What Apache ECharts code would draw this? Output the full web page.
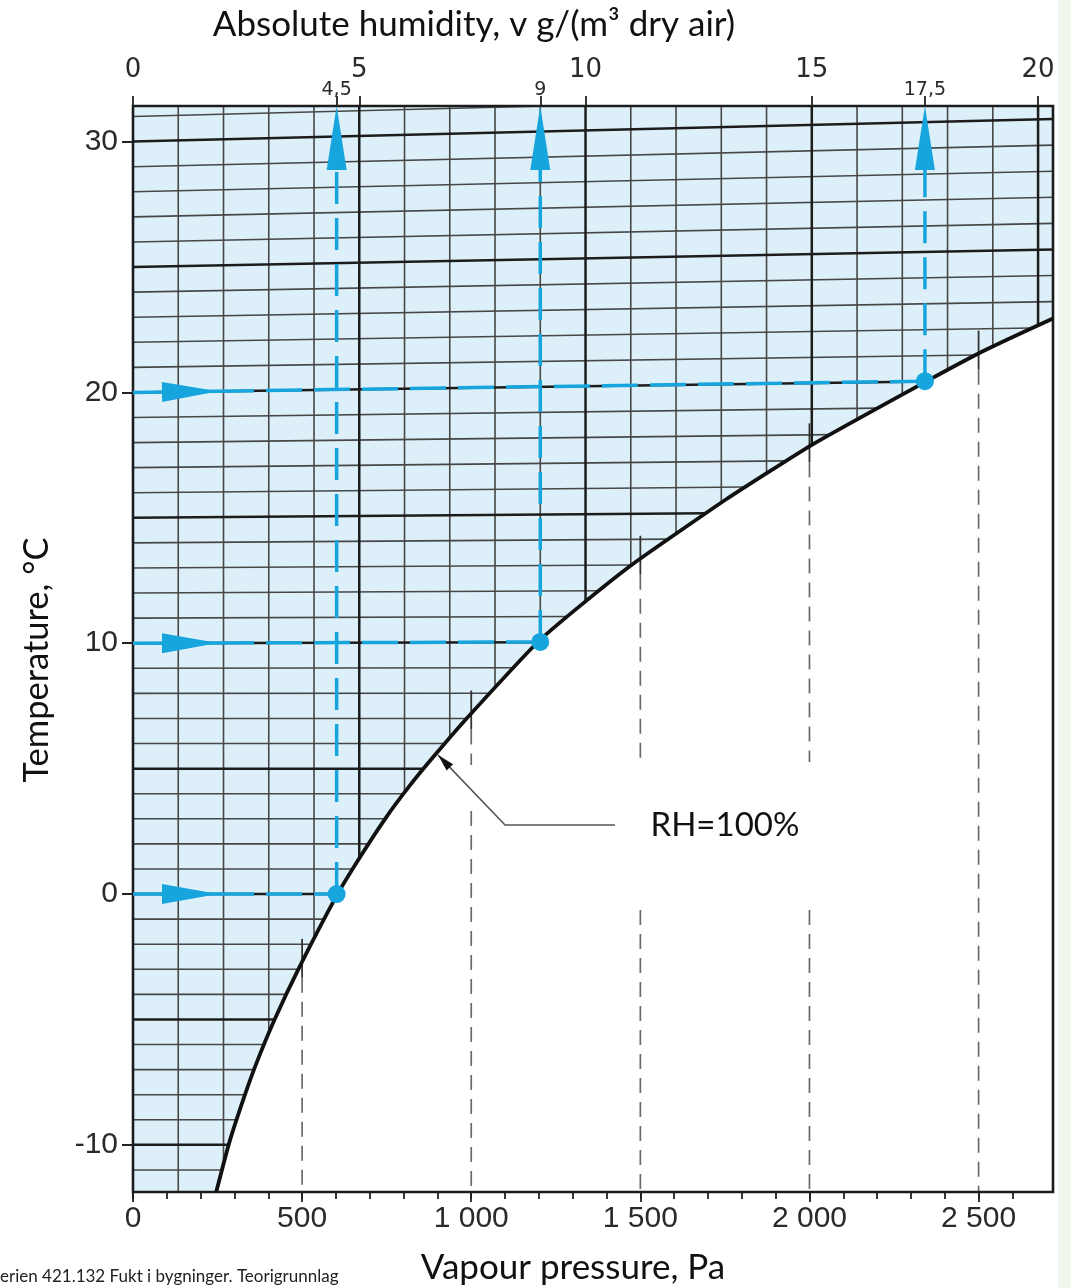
<!DOCTYPE html>
<html><head><meta charset="utf-8">
<script src="https://cdn.jsdelivr.net/npm/echarts@6/dist/echarts.min.js"></script>
<style>html,body{margin:0;padding:0;background:#fff}#c{width:1071px;height:1288px}</style>
</head><body><div id="c"></div>
<script>
// ---------------- axis ranges ----------------
const P_MIN = 0, P_MAX = 2720;          // vapour pressure, Pa (bottom axis)
const V_MIN = 0, V_MAX = 20.33;         // absolute humidity, g/m3 (top axis)
const T_MIN = -11.88, T_MAX = 31.42;    // temperature, °C (left axis)

// tick labels
const pressureTicks = [0, 500, 1000, 1500, 2000, 2500];
const pressureMinorTicks = [0,100,200,300,400,500,600,700,800,900,1000,1100,1200,1300,1400,1500,1600,1700,1800,1900,2000,2100,2200,2300,2400,2500,2600];
const humidityTicks = [0, 5, 10, 15, 20];
const humidityMarks = [4.5, 9, 17.5];
const temperatureTicks = [-10, 0, 10, 20, 30];

// saturation curve, RH = 100 %  (pressure Pa, temperature °C)
const curveP = [246, 284, 329, 365, 418, 492, 603, 671, 747, 817, 890, 985, 1197, 1328, 1481, 1754, 2006, 2347, 2520, 2720];
const curveT = [-11.88, -9.94, -8.08, -6.74, -5.02, -2.91, -0.04, 1.47, 3.03, 4.30, 5.50, 6.98, 10.05, 11.56, 13.19, 15.74, 17.90, 20.45, 21.69, 22.95];

// chart grid: isotherms (°C) and humidity lines (g/m3)
const isotherms = [-11,-10,-9,-8,-7,-6,-5,-4,-3,-2,-1,0,1,2,3,4,5,6,7,8,9,10,11,12,13,14,15,16,17,18,19,20,21,22,23,24,25,26,27,28,29,30,31];
const humidityLines = [1,2,3,4,5,6,7,8,9,10,11,12,13,14,15,16,17,18,19,20];
const isoTiltSlope = 0.04, isoTiltFrom = 7.5;   // isotherms rise slightly to the right in the reference

// worked examples (blue guides)
const guideV = [4.5, 9, 17.5];
const guideTStart = [0, 10, 20];
const guideTDot = [0, 10.05, 20.45];

// dashed pressure reference lines below the curve
const refP = [500, 1000, 1500, 2000, 2500];
const refGaps = [[], [[3.31, 5.14]], [[-0.64, 5.26]], [[-0.64, 5.26]], []];

// RH label leader
const leaderP = [902, 1100, 1425];
const leaderT = [5.54, 2.75, 2.75];
const rhLabelText = 'RH=100%';
const rhLabelAt = [1530, 2.75];

const BLUE = '#17a5dd';

function isoRise(t) { return Math.max(0, isoTiltSlope * (t - isoTiltFrom)); }

function segIntersect(a, b, c, d) {
  const r = [b[0]-a[0], b[1]-a[1]], s = [d[0]-c[0], d[1]-c[1]];
  const den = r[0]*s[1] - r[1]*s[0];
  if (Math.abs(den) < 1e-9) return null;
  const qp = [c[0]-a[0], c[1]-a[1]];
  const t = (qp[0]*s[1] - qp[1]*s[0]) / den;
  const u = (qp[0]*r[1] - qp[1]*r[0]) / den;
  if (t >= 0 && t <= 1 && u >= 0 && u <= 1) return [a[0]+t*r[0], a[1]+t*r[1]];
  return null;
}

function gridRender(params, api) {
  const tl = api.coord([P_MIN, T_MAX]), br = api.coord([P_MAX, T_MIN]);
  const x0 = tl[0], y0 = tl[1], x1 = br[0], y1 = br[1];
  const curve = curveP.map((p, i) => api.coord([p, curveT[i]]));
  const children = [];
  children.push({type: 'polygon', shape: {points: [[x0, y0], [x0, y1]].concat(curve).concat([[x1, y0]])},
    style: {fill: '#ddf0f9'}});
  function curveYatX(x) {
    if (x <= curve[0][0]) return y1;
    for (let i = 0; i < curve.length - 1; i++) {
      const a = curve[i], b = curve[i+1];
      if (x >= a[0] && x <= b[0]) return a[1] + (b[1]-a[1]) * (x-a[0]) / (b[0]-a[0]);
    }
    return curve[curve.length-1][1];
  }
  const minor = [], major = [];
  isotherms.forEach(t => {
    const A = api.coord([P_MIN, t]);
    let B = api.coord([P_MAX, t + isoRise(t)]);
    for (let i = 0; i < curve.length - 1; i++) {
      const hit = segIntersect(A, B, curve[i], curve[i+1]);
      if (hit) { B = hit; break; }
    }
    if (A[1] < y0) return;
    if (B[1] < y0) { const f = (A[1]-y0) / (A[1]-B[1]); B = [A[0] + f*(B[0]-A[0]), y0]; }
    (t % 5 === 0 ? major : minor).push({type: 'line', shape: {x1: A[0], y1: A[1], x2: B[0], y2: B[1]}});
  });
  humidityLines.forEach(v => {
    const x = x0 + (v - V_MIN) / (V_MAX - V_MIN) * (x1 - x0);
    const yb = curveYatX(x);
    (v % 5 === 0 ? major : minor).push({type: 'line', shape: {x1: x, y1: y0, x2: x, y2: yb}});
  });
  minor.forEach(e => { e.style = {stroke: '#474747', lineWidth: 1.6}; children.push(e); });
  major.forEach(e => { e.style = {stroke: '#1c1c1c', lineWidth: 2.5}; children.push(e); });
  // reference pressure lines
  refP.forEach((p, k) => {
    const x = api.coord([p, 0])[0];
    const yc = curveYatX(x);
    children.push({type: 'line', shape: {x1: x, y1: yc - 23, x2: x, y2: yc + 16}, style: {stroke: '#333', lineWidth: 1.8}});
    let segs = [[yc + 16, y1]];
    refGaps[k].forEach(g => {
      const ga = api.coord([p, g[1]])[1], gb = api.coord([p, g[0]])[1];
      const out = [];
      segs.forEach(s => {
        if (gb <= s[0] || ga >= s[1]) { out.push(s); return; }
        if (ga > s[0]) out.push([s[0], ga]);
        if (gb < s[1]) out.push([gb, s[1]]);
      });
      segs = out;
    });
    segs.forEach(s => children.push({type: 'line', shape: {x1: x, y1: s[0], x2: x, y2: s[1]},
      style: {stroke: '#6a6a6a', lineWidth: 1.7, lineDash: [15, 9]}}));
  });
  children.push({type: 'rect', shape: {x: x0, y: y0, width: x1 - x0, height: y1 - y0},
    style: {fill: 'none', stroke: '#1c1c1c', lineWidth: 2.6}});
  return {type: 'group', children};
}

function guideRender(params, api) {
  const v = api.value(0), td = api.value(1), ts = api.value(2);
  const L = api.coord([V_MIN, ts]);
  const D = api.coord([v, td]);
  const U = api.coord([v, T_MAX]);
  const dx = D[0]-L[0], dy = D[1]-L[1], len = Math.hypot(dx, dy);
  const ux = dx/len, uy = dy/len, nx = -uy, ny = ux;
  const base = [L[0]+ux*29, L[1]+uy*29], tip = [L[0]+ux*85, L[1]+uy*85];
  const ab = U[1] + 64;
  const st = {stroke: BLUE, lineWidth: 3.5};
  return {type: 'group', children: [
    {type: 'line', shape: {x1: L[0], y1: L[1], x2: tip[0], y2: tip[1]}, style: st},
    {type: 'line', shape: {x1: tip[0], y1: tip[1], x2: D[0], y2: D[1]}, style: Object.assign({lineDash: [36, 12]}, st)},
    {type: 'polygon', shape: {points: [[base[0]+nx*10, base[1]+ny*10], tip, [base[0]-nx*10, base[1]-ny*10]]}, style: {fill: BLUE}},
    {type: 'line', shape: {x1: D[0], y1: D[1], x2: D[0], y2: ab}, style: Object.assign({lineDash: [32, 14]}, st)},
    {type: 'polygon', shape: {points: [[U[0]-10, ab], [U[0], U[1]], [U[0]+10, ab]]}, style: {fill: BLUE}},
    {type: 'circle', shape: {cx: D[0], cy: D[1], r: 9}, style: {fill: BLUE}}
  ]};
}

function leaderRender(params, api) {
  const pts = leaderP.map((p, i) => api.coord([p, leaderT[i]]));
  const a = pts[0], b = pts[1];
  const dx = a[0]-b[0], dy = a[1]-b[1], len = Math.hypot(dx, dy);
  const ux = dx/len, uy = dy/len, nx = -uy, ny = ux;
  const bs = [a[0]-ux*17, a[1]-uy*17];
  const lp = api.coord(rhLabelAt);
  return {type: 'group', children: [
    {type: 'polyline', shape: {points: pts}, style: {stroke: '#555', lineWidth: 1.6, fill: null}},
    {type: 'polygon', shape: {points: [[bs[0]+nx*4.5, bs[1]+ny*4.5], a, [bs[0]-nx*4.5, bs[1]-ny*4.5]]}, style: {fill: '#111'}},
    {type: 'text', x: lp[0], y: lp[1], style: {text: rhLabelText, fill: '#111', font: '33px Lato', align: 'left', verticalAlign: 'middle'}}
  ]};
}

const chart = echarts.init(document.getElementById('c'), null, {renderer: 'canvas'});
const tickStyle = {color: '#222', width: 1.8};
const noLine = {show: false, onZero: false};
chart.setOption({
  animation: false,
  backgroundColor: '#ffffff',
  grid: {left: 133, right: 18, top: 106, bottom: 96, show: false},
  xAxis: [
    {type: 'value', position: 'bottom', min: P_MIN, max: P_MAX, axisLine: noLine, splitLine: {show: false},
     axisTick: {show: true, length: 7, customValues: pressureMinorTicks, lineStyle: tickStyle},
     axisLabel: {customValues: pressureTicks, fontFamily: 'Liberation Sans', fontSize: 30, color: '#2a2a2a', margin: 12,
       formatter: v => v >= 1000 ? Math.floor(v/1000) + ' ' + String(v % 1000).padStart(3, '0') : String(v)}},
    {type: 'value', position: 'top', min: V_MIN, max: V_MAX, axisLine: noLine, splitLine: {show: false},
     axisTick: {show: true, length: 10, customValues: humidityTicks, lineStyle: tickStyle},
     axisLabel: {customValues: humidityTicks, fontFamily: 'DejaVu Sans', fontSize: 26, color: '#2a2a2a', margin: 23}},
    {type: 'value', position: 'top', min: V_MIN, max: V_MAX, axisLine: noLine, splitLine: {show: false},
     axisTick: {show: true, length: 10, customValues: humidityMarks, lineStyle: tickStyle},
     axisLabel: {customValues: humidityMarks, fontFamily: 'DejaVu Sans', fontSize: 19, color: '#2a2a2a', margin: 6,
       formatter: v => String(v).replace('.', ',')}},
    {type: 'value', position: 'bottom', min: P_MIN, max: P_MAX, axisLine: noLine, splitLine: {show: false},
     axisTick: {show: true, length: 10, customValues: pressureTicks, lineStyle: tickStyle},
     axisLabel: {show: false}}
  ],
  yAxis: [
    {type: 'value', min: T_MIN, max: T_MAX, axisLine: noLine, splitLine: {show: false},
     axisTick: {show: true, length: 11, customValues: temperatureTicks, lineStyle: {color: '#222', width: 2}},
     axisLabel: {customValues: temperatureTicks, fontFamily: 'Liberation Sans', fontSize: 30, color: '#2a2a2a', margin: 15}}
  ],
  series: [
    {type: 'custom', name: 'grid', xAxisIndex: 0, yAxisIndex: 0, data: [[0, 0]], renderItem: gridRender, silent: true, clip: false, z: 1},
    {type: 'line', name: 'RH=100%', xAxisIndex: 0, yAxisIndex: 0, data: curveP.map((p, i) => [p, curveT[i]]),
     smooth: 0.15, symbol: 'none', lineStyle: {color: '#111', width: 3.8}, z: 3, silent: true},
    {type: 'custom', name: 'leader', xAxisIndex: 0, yAxisIndex: 0, data: [[0, 0]], renderItem: leaderRender, silent: true, clip: false, z: 4},
    {type: 'custom', name: 'guides', xAxisIndex: 1, yAxisIndex: 0,
     data: guideV.map((v, i) => [v, guideTDot[i], guideTStart[i]]), renderItem: guideRender, silent: true, clip: false, z: 5}
  ],
  graphic: [
    {type: 'rect', left: 1058, top: 0, shape: {width: 13, height: 1288}, style: {fill: '#eff7ed'}, z: -1},
    {type: 'text', x: 474, y: 25, style: {text: 'Absolute humidity, v g/(m³ dry air)', font: '35px Lato', fill: '#111', align: 'center', verticalAlign: 'middle'}},
    {type: 'text', x: 573, y: 1268, style: {text: 'Vapour pressure, Pa', font: '35px Lato', fill: '#111', align: 'center', verticalAlign: 'middle'}},
    {type: 'text', x: 37, y: 660, rotation: Math.PI / 2, style: {text: 'Temperature, °C', font: '34.5px Lato', fill: '#111', align: 'center', verticalAlign: 'middle'}},
    {type: 'text', x: 0, y: 1277, style: {text: 'erien 421.132 Fukt i bygninger. Teorigrunnlag', font: '17px Lato', fill: '#222', align: 'left', verticalAlign: 'middle'}}
  ]
});
</script></body></html>
